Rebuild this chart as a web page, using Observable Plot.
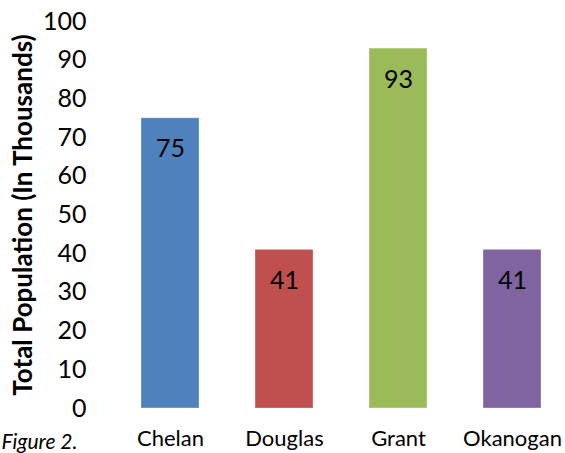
<!DOCTYPE html>
<html>
<head>
<meta charset="utf-8">
<script src="https://cdn.jsdelivr.net/npm/d3@7"></script>
<script src="https://cdn.jsdelivr.net/npm/@observablehq/plot@0.6"></script>
<style>
  html, body { margin: 0; padding: 0; background: #fff; }
  #chart svg { display: block; }
</style>
</head>
<body>
<div id="chart"></div>
<script>
const counties = ["Chelan", "Douglas", "Grant", "Okanogan"];
const populations = [75, 41, 93, 41];
const colors = ["#4F81BD", "#C0504D", "#9BBB59", "#8064A2"];
const yTicks = [0, 10, 20, 30, 40, 50, 60, 70, 80, 90, 100];
const yTitle = "Total Population (In Thousands)";
const caption = "Figure 2.";

const data = counties.map((c, i) => ({county: c, value: populations[i], color: colors[i]}));
const font = "Lato, 'Open Sans', sans-serif";

const chart = Plot.plot({
  width: 565,
  height: 453,
  marginTop: 21,
  marginBottom: 45,
  marginLeft: 118,
  marginRight: 1,
  style: {fontFamily: font, fontSize: "22px", color: "#000", background: "#fff", overflow: "visible"},
  x: {domain: counties, paddingInner: 0.49, paddingOuter: 0.2, label: null},
  y: {domain: [0, 100], label: null},
  marks: [
    Plot.axisY({ticks: yTicks, tickSize: 0, tickPadding: 32, fontSize: 25, label: null}),
    Plot.axisX({tickSize: 0, tickPadding: 22, fontSize: 22, label: null}),
    Plot.barY(data, {x: "county", y: "value", fill: "color", stroke: "#ffffff", strokeOpacity: 0.35, strokeWidth: 1}),
    Plot.text(data, {x: "county", y: "value", text: d => String(d.value), dy: 31, fill: "#000", fontSize: 25, lineAnchor: "middle"}),
    Plot.text([yTitle], {text: d => d, frameAnchor: "left", rotate: -90, dx: -95, fontSize: 26, fontWeight: "bold", fill: "#000", textAnchor: "middle", lineAnchor: "middle"}),
    Plot.text([caption], {text: d => d, frameAnchor: "bottom-left", dx: -117, dy: 40, fontSize: 21, fontStyle: "italic", fill: "#000", textAnchor: "start", lineAnchor: "bottom"})
  ]
});
document.getElementById("chart").appendChild(chart);
</script>
</body>
</html>
